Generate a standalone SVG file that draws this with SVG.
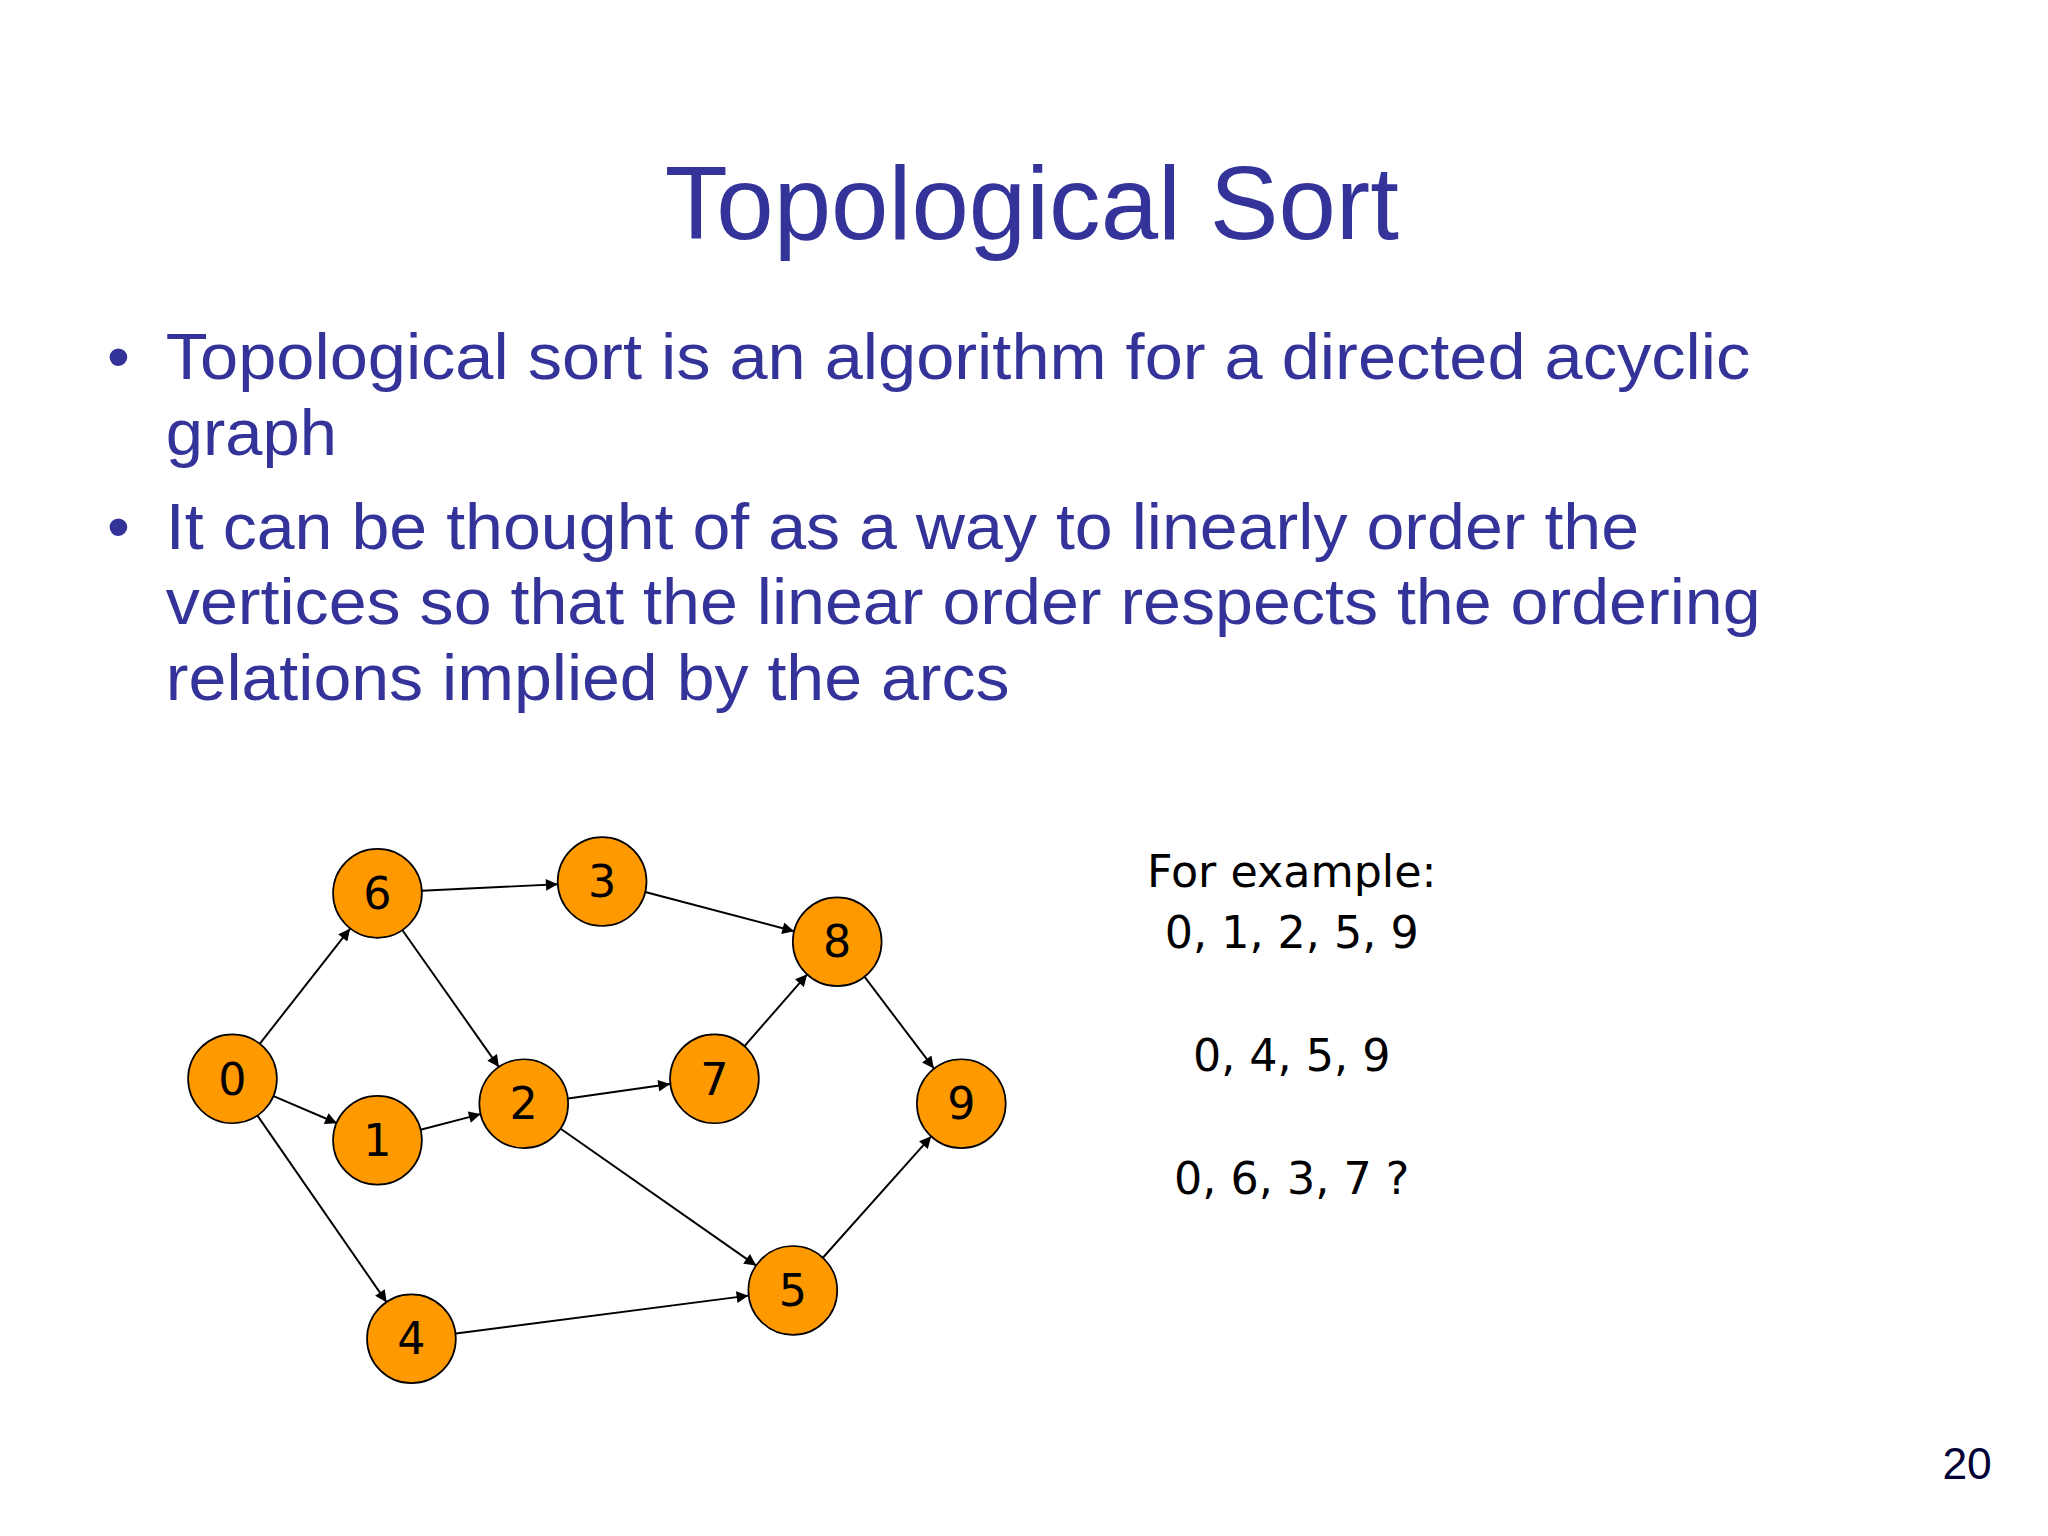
<svg xmlns="http://www.w3.org/2000/svg" width="2048" height="1536" viewBox="0 0 2048 1536">
<defs>
<style>
.t{font-family:"Liberation Sans",Arial,sans-serif;fill:#333399}
.n circle{fill:#FF9900;stroke:#000;stroke-width:1.3}
.n text{font-family:"DejaVu Sans",Verdana,sans-serif;font-size:34px;text-anchor:middle;fill:#000}
.e line{stroke:#000;stroke-width:1.5;marker-end:url(#a)}
.x{font-family:"DejaVu Sans",Verdana,sans-serif;font-size:34px;text-anchor:middle;fill:#000}
</style>
<marker id="a" viewBox="0 0 10 10" refX="10" refY="5" markerWidth="10" markerHeight="9" orient="auto" markerUnits="userSpaceOnUse"><path d="M0,0L10,5L0,10z" fill="#000"/></marker>
</defs>
<rect width="2048" height="1536" fill="#fff"/>
<g transform="scale(1.3061)">
<text class="t" x="790" y="183" font-size="79" text-anchor="middle">Topological Sort</text>
<g class="t" font-size="50">
<text x="82" y="290">•</text><text x="127" y="290" textLength="1213" lengthAdjust="spacingAndGlyphs">Topological sort is an algorithm for a directed acyclic</text>
<text x="127" y="348" textLength="131" lengthAdjust="spacingAndGlyphs">graph</text>
<text x="82" y="420">•</text><text x="127" y="420" textLength="1128" lengthAdjust="spacingAndGlyphs">It can be thought of as a way to linearly order the</text>
<text x="127" y="478" textLength="1221" lengthAdjust="spacingAndGlyphs">vertices so that the linear order respects the ordering</text>
<text x="127" y="536" textLength="646" lengthAdjust="spacingAndGlyphs">relations implied by the arcs</text>
</g>
<g id="connectors" class="e">
<line x1="199" y1="799" x2="268" y2="711"/>
<line x1="209" y1="839" x2="258" y2="860"/>
<line x1="197" y1="854" x2="296" y2="997"/>
<line x1="323" y1="682" x2="427" y2="677"/>
<line x1="308" y1="712" x2="382" y2="817"/>
<line x1="322" y1="865" x2="368" y2="853"/>
<line x1="435" y1="841" x2="513" y2="830"/>
<line x1="429" y1="864" x2="579" y2="969"/>
<line x1="494" y1="683" x2="608" y2="713"/>
<line x1="570" y1="801" x2="618" y2="746"/>
<line x1="662" y1="748" x2="715" y2="818"/>
<line x1="349" y1="1021" x2="573" y2="992"/>
<line x1="630" y1="963" x2="713" y2="870"/>
</g>
<g id="n0" class="n"><circle cx="178" cy="826" r="34"/><text x="178" y="838">0</text></g>
<g id="n6" class="n"><circle cx="289" cy="684" r="34"/><text x="289" y="696">6</text></g>
<g id="n3" class="n"><circle cx="461" cy="675" r="34"/><text x="461" y="687">3</text></g>
<g id="n8" class="n"><circle cx="641" cy="721" r="34"/><text x="641" y="733">8</text></g>
<g id="n1" class="n"><circle cx="289" cy="873" r="34"/><text x="289" y="885">1</text></g>
<g id="n2" class="n"><circle cx="401" cy="845" r="34"/><text x="401" y="857">2</text></g>
<g id="n7" class="n"><circle cx="547" cy="826" r="34"/><text x="547" y="838">7</text></g>
<g id="n9" class="n"><circle cx="736" cy="845" r="34"/><text x="736" y="857">9</text></g>
<g id="n5" class="n"><circle cx="607" cy="988" r="34"/><text x="607" y="1000">5</text></g>
<g id="n4" class="n"><circle cx="315" cy="1025" r="34"/><text x="315" y="1037">4</text></g>
<text class="x" x="989" y="679">For example:</text>
<text class="x" x="989" y="726">0, 1, 2, 5, 9</text>
<text class="x" x="989" y="820">0, 4, 5, 9</text>
<text class="x" x="989" y="914">0, 6, 3, 7 ?</text>
<text x="1525" y="1132" font-size="34" text-anchor="end" font-family="Liberation Sans,Arial,sans-serif" fill="#000033">20</text>
</g>
</svg>
